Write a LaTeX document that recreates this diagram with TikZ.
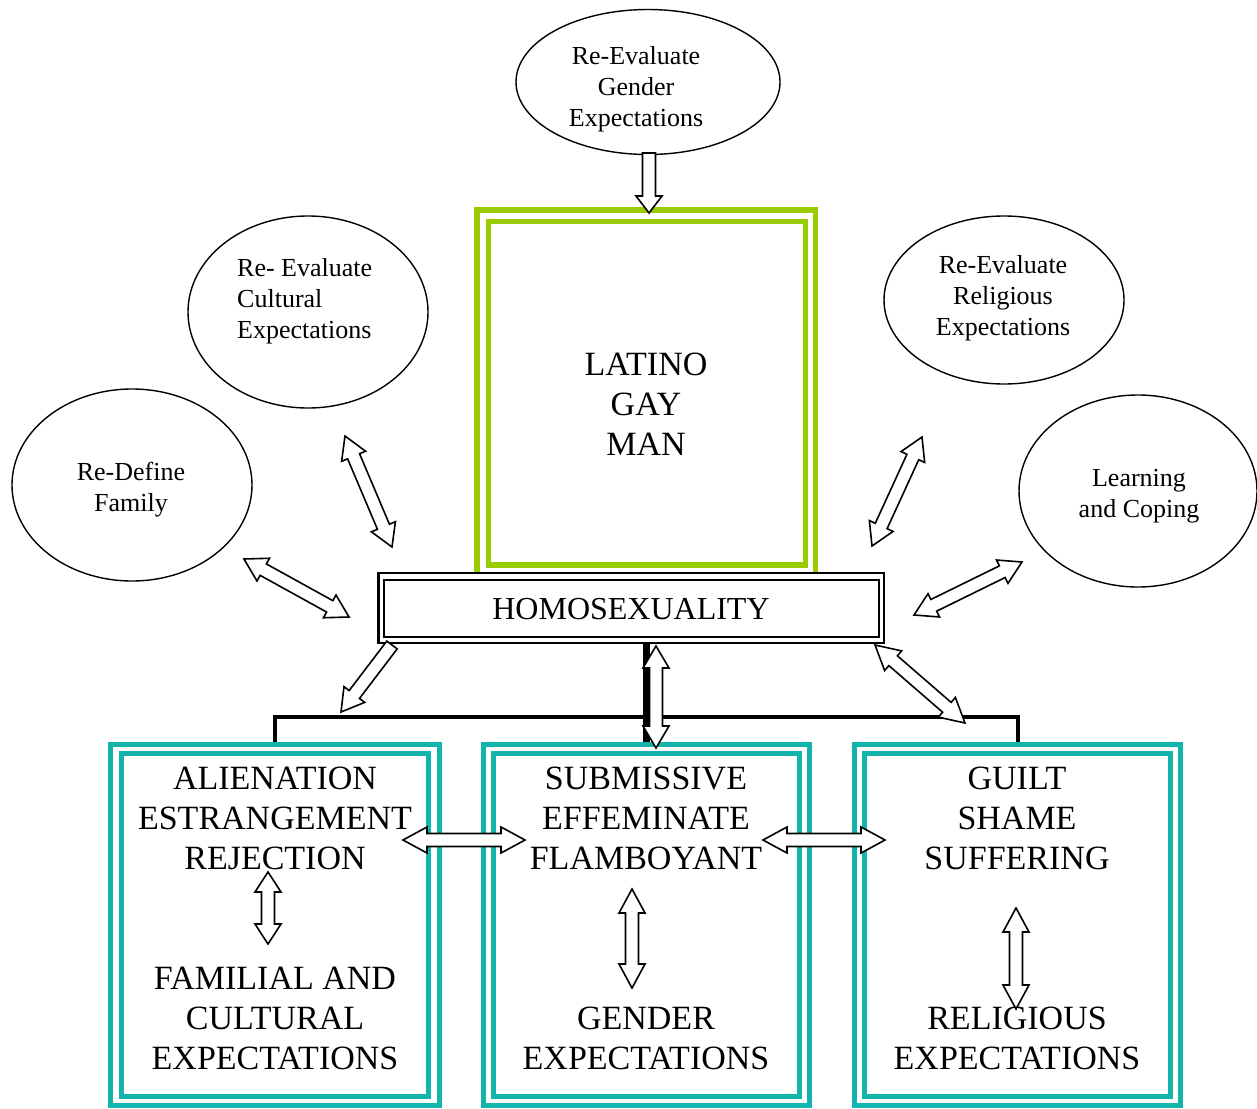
\documentclass[tikz,border=0pt]{standalone}
\usepackage{fontspec}
\setmainfont{Liberation Serif}
\usetikzlibrary{calc,shapes.geometric}
\definecolor{lime}{RGB}{153,204,0}
\definecolor{tealc}{RGB}{18,180,172}
\newcommand\hw{13pt}
\newcommand\sw{6.5pt}
\newcommand\dblarrow[3][20pt]{%
  \coordinate (h1) at ($(#2)!#1!(#3)$);
  \coordinate (h2) at ($(#3)!#1!(#2)$);
  \draw[blk] (#2) -- ($(h1)!\hw!90:(#3)$) -- ($(h1)!\sw!90:(#3)$) -- ($(h2)!\sw!-90:(#2)$) -- ($(h2)!\hw!-90:(#2)$) -- (#3)
    -- ($(h2)!\hw!90:(#2)$) -- ($(h2)!\sw!90:(#2)$) -- ($(h1)!\sw!-90:(#3)$) -- ($(h1)!\hw!-90:(#3)$) -- cycle;}
\newcommand\sglarrow[3][20pt]{%
  \coordinate (h2) at ($(#3)!#1!(#2)$);
  \draw[blk] ($(#2)!\sw!90:(#3)$) -- ($(h2)!\sw!-90:(#2)$) -- ($(h2)!\hw!-90:(#2)$) -- (#3)
    -- ($(h2)!\hw!90:(#2)$) -- ($(h2)!\sw!90:(#2)$) -- ($(#2)!\sw!-90:(#3)$) -- cycle;}
\begin{document}
\begin{tikzpicture}[x=1pt,y=-1pt,
  blk/.style={draw=black,fill=white,line width=1.6pt,line join=miter},
  ell/.style={draw=black,line width=1.4pt,ellipse,inner sep=0pt},
  etext/.style={font=\fontsize{26}{31}\selectfont,align=center,inner sep=0pt},
  btext/.style={font=\fontsize{34}{40}\selectfont,align=center,inner sep=0pt},
  tealbox/.style={draw=tealc,line width=5pt},
  limebox/.style={draw=lime,line width=5.5pt},
  conn/.style={draw=black,line width=4.5pt}]
\useasboundingbox (0,0) rectangle (1257,1108);
\fill[white] (0,0) rectangle (1257,1108);

% ellipses
\node[ell,minimum width=264pt,minimum height=145pt] (eTop) at (648,82) {};
\node[etext] (tTop) at (636,89) {Re-Evaluate\\Gender\\Expectations};
\node[ell,minimum width=240pt,minimum height=192pt] (eCult) at (308,312) {};
\node[etext,align=left,anchor=west] (tCult) at (237,301) {Re- Evaluate\\Cultural\\Expectations};
\node[ell,minimum width=240pt,minimum height=192pt] (eFam) at (132,485) {};
\node[etext] (tFam) at (131,490) {Re-Define\\Family};
\node[ell,minimum width=240pt,minimum height=168pt] (eRel) at (1004,300) {};
\node[etext] (tRel) at (1003,298) {Re-Evaluate\\Religious\\Expectations};
\node[ell,minimum width=238pt,minimum height=192pt] (eLearn) at (1138,491) {};
\node[etext] (tLearn) at (1139,496) {Learning\\and Coping};

% black connectors
\coordinate (cTop) at (646.5,643);
\coordinate (cMid) at (646.5,744);
\coordinate (cL) at (275,717);
\coordinate (cR) at (1018,717);
\coordinate (cLb) at (275,744);
\coordinate (cRb) at (1018,744);
\draw[conn,line width=7pt] (cTop) -- (cMid);
\draw[conn,line cap=rect] (cLb) -- (cL) -- (cR) -- (cRb);

% green box
\draw[limebox] (477,210) rectangle (815.5,575);
\draw[limebox] (488.5,221.5) rectangle (805.5,565);
\node[btext] (latino) at (646,404) {LATINO\\GAY\\MAN};

% homosexuality box
\draw[black,line width=2.5pt,fill=white] (378.5,573) rectangle (884,643);
\draw[black,line width=2pt] (384,579.5) rectangle (878.5,637);
\node[font=\fontsize{32}{38}\selectfont,inner sep=0pt] (homo) at (631,609) {HOMOSEXUALITY};

% teal boxes
\draw[tealbox] (110.5,744.5) rectangle (439.5,1105);
\draw[tealbox] (121.5,753.5) rectangle (428.5,1096);
\draw[tealbox] (483.5,744.5) rectangle (809.5,1105);
\draw[tealbox] (493.5,753.5) rectangle (799.5,1096);
\draw[tealbox] (854.5,744.5) rectangle (1180.5,1105);
\draw[tealbox] (864.5,753.5) rectangle (1170.5,1096);

\node[btext] (b1a) at (275,818) {ALIENATION\\ESTRANGEMENT\\REJECTION};
\node[btext] (b1b) at (275,1018) {FAMILIAL AND\\CULTURAL\\EXPECTATIONS};
\node[btext] (b2a) at (646,818) {SUBMISSIVE\\EFFEMINATE\\FLAMBOYANT};
\node[btext] (b2b) at (646,1038) {GENDER\\EXPECTATIONS};
\node[btext] (b3a) at (1017,818) {GUILT\\SHAME\\SUFFERING};
\node[btext] (b3b) at (1017,1038) {RELIGIOUS\\EXPECTATIONS};

% block arrows
\coordinate (a1s) at (649,153); \coordinate (a1e) at (649,213);
\sglarrow[17pt]{a1s}{a1e}
\coordinate (a2s) at (345,436); \coordinate (a2e) at (392,547);
\dblarrow[22pt]{a2s}{a2e}
\coordinate (a3s) at (244,559); \coordinate (a3e) at (349,617);
\dblarrow[22pt]{a3s}{a3e}
\coordinate (a4s) at (392,645); \coordinate (a4e) at (341,712);
\sglarrow[22pt]{a4s}{a4e}
\coordinate (a5s) at (656,646); \coordinate (a5e) at (656,748);
\dblarrow[22pt]{a5s}{a5e}
\coordinate (a6s) at (875,645); \coordinate (a6e) at (965,723);
\dblarrow[24pt]{a6s}{a6e}
\coordinate (a7s) at (922,437); \coordinate (a7e) at (872,546);
\dblarrow[22pt]{a7s}{a7e}
\coordinate (a8s) at (1022,562); \coordinate (a8e) at (914,615);
\dblarrow[22pt]{a8s}{a8e}
\coordinate (a9s) at (403,840); \coordinate (a9e) at (525,840);
\dblarrow[24pt]{a9s}{a9e}
\coordinate (a10s) at (763,840); \coordinate (a10e) at (885,840);
\dblarrow[24pt]{a10s}{a10e}
\coordinate (a11s) at (268,872); \coordinate (a11e) at (268,944);
\dblarrow[20pt]{a11s}{a11e}
\coordinate (a12s) at (632,889); \coordinate (a12e) at (632,988);
\dblarrow[24pt]{a12s}{a12e}
\coordinate (a13s) at (1016,908); \coordinate (a13e) at (1016,1009);
\dblarrow[24pt]{a13s}{a13e}
\end{tikzpicture}
\end{document}
